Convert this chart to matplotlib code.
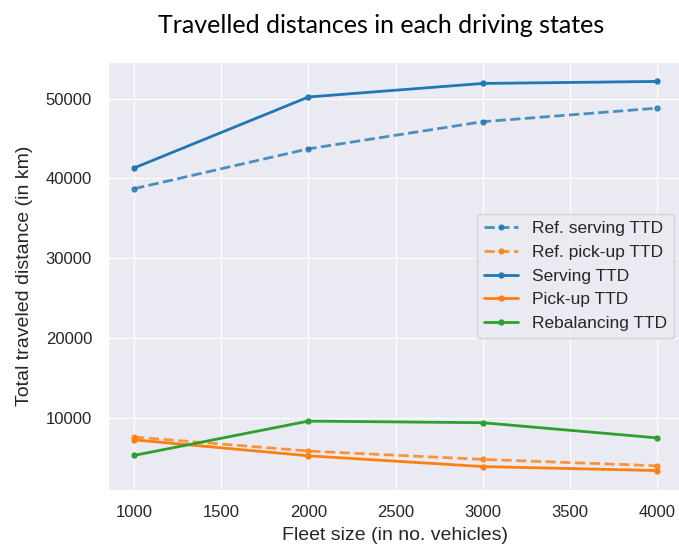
import numpy as np
import matplotlib.pyplot as plt
import seaborn as sns

# ---- Data ----
fleet_size = [1000, 2000, 3000, 4000]
ref_serving = [38700, 43700, 47100, 48800]
ref_pickup = [7550, 5800, 4750, 3950]
serving = [41300, 50200, 51900, 52150]
pickup = [7200, 5200, 3850, 3350]
rebalancing = [5250, 9550, 9350, 7450]

sns.set_style("darkgrid")
plt.rcParams["font.family"] = ["Liberation Sans", "DejaVu Sans"]
blue = "#1f77b4"
orange = "#ff7f0e"
green = "#2ca02c"

fig = plt.figure(figsize=(6.79, 5.47), dpi=100)
ax = fig.add_axes([108 / 679, 57 / 547, 575 / 679, 428 / 547])

ax.plot(fleet_size, ref_serving, "--", marker=".", color=blue, alpha=0.8,
        lw=2, markersize=7, label="Ref. serving TTD")
ax.plot(fleet_size, ref_pickup, "--", marker=".", color=orange, alpha=0.8,
        lw=2, markersize=7, label="Ref. pick-up TTD")
ax.plot(fleet_size, serving, "-", marker=".", color=blue,
        lw=2, markersize=7, label="Serving TTD")
ax.plot(fleet_size, pickup, "-", marker=".", color=orange,
        lw=2, markersize=7, label="Pick-up TTD")
ax.plot(fleet_size, rebalancing, "-", marker=".", color=green,
        lw=2, markersize=7, label="Rebalancing TTD")

ax.set_xlabel("Fleet size (in no. vehicles)", fontsize=14, labelpad=5)
ax.set_ylabel("Total traveled distance (in km)", fontsize=14, labelpad=9)
ax.tick_params(axis="x", labelsize=12, pad=7)
ax.tick_params(axis="y", labelsize=12, pad=8)
ax.legend(loc="center right", fontsize=12.5)

fig.suptitle("Travelled distances in each driving states", x=0.561, y=0.975,
             fontsize=18, color="black", family=["Lato", "DejaVu Sans"])

fig.savefig("out.png", dpi=100)
